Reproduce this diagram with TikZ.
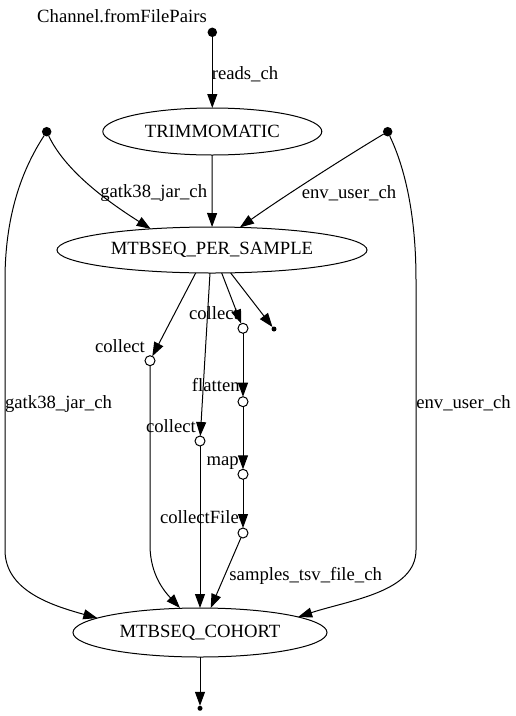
\documentclass[tikz,border=0pt]{standalone}
\usepackage{fontspec}
\setmainfont{Liberation Serif}
\usetikzlibrary{shapes.geometric,arrows.meta}
\begin{document}
\begin{tikzpicture}[x=1pt,y=-1pt,
  every node/.style={font=\fontsize{18.67}{22}\selectfont},
  lbl/.style={inner sep=0pt, text height=12.5pt, text depth=4pt, yshift=-2.5pt},
  proc/.style={ellipse, draw, line width=1pt, inner sep=0pt, outer sep=0pt, minimum height=47pt},
  bigdot/.style={circle, fill=black, inner sep=0pt, minimum size=9.5pt, outer sep=0pt},
  smalldot/.style={circle, fill=black, inner sep=0pt, minimum size=5pt, outer sep=0pt},
  opcirc/.style={circle, draw, fill=white, line width=1pt, inner sep=0pt, minimum size=10pt, outer sep=0pt},
  edge/.style={line width=1pt},
  arr/.style={edge, -{Triangle[length=14pt,width=10pt]}}
]
\useasboundingbox (0,0) rectangle (516,716);

% nodes
\node[lbl] (srclbl) at (122,16) {Channel.fromFilePairs};
\node[bigdot] (d0) at (212.3,32.3) {};
\node[proc, minimum width=219pt] (trim) at (212.3,131.5) {TRIMMOMATIC};
\node[bigdot] (ldot) at (46.7,131.7) {};
\node[bigdot] (rdot) at (387.7,131.7) {};
\node[proc, minimum width=310pt, minimum height=46pt] (ps) at (212,250) {MTBSEQ\_PER\_SAMPLE};
\node[opcirc] (c3) at (243,328.3) {};
\node[smalldot] (dot4) at (274,329) {};
\node[opcirc] (c1) at (150,360.7) {};
\node[opcirc] (c4) at (243,401.7) {};
\node[opcirc] (c2) at (200,441) {};
\node[opcirc] (c5) at (243,474.3) {};
\node[opcirc] (c6) at (243,533) {};
\node[proc, minimum width=254pt, minimum height=49pt] (co) at (200,632.5) {MTBSEQ\_COHORT};
\node[smalldot] (dend) at (200,708.3) {};

% edge labels
\node[lbl] (l1) at (245,72.7) {reads\_ch};
\node[lbl] (l2) at (153.7,191) {gatk38\_jar\_ch};
\node[lbl] (l3) at (349,191.7) {env\_user\_ch};
\node[lbl] (l4) at (58.5,402) {gatk38\_jar\_ch};
\node[lbl] (l5) at (463.5,402) {env\_user\_ch};
\node[lbl] (l6) at (120,346) {collect};
\node[lbl] (l7) at (214,313) {collect};
\node[lbl] (l8) at (215.8,385) {flatten};
\node[lbl] (l9) at (171,425.7) {collect};
\node[lbl] (l10) at (222.7,459) {map};
\node[lbl] (l11) at (199.4,516.7) {collectFile};
\node[lbl] (l12) at (305.7,573.3) {samples\_tsv\_file\_ch};

% edges
\draw[arr] (d0) -- (trim);
\draw[arr] (trim) -- (ps);
\draw[arr] (ldot) .. controls (65,170) and (105,200) .. (ps.161.4);
\draw[arr] (rdot) .. controls (360,148) and (290,192) .. (ps.39.8);
\draw[arr] (ldot) .. controls (25,165) and (5,210) .. (5,280) -- (5,550)
  .. controls (5,590) and (50,605) .. (co.172);
\draw[arr] (rdot) .. controls (405,168) and (416,215) .. (416,280) -- (416,550)
  .. controls (416,592) and (350,600) .. (co.9.3);
\draw[arr] ([xshift=-16.3pt]ps.south) -- (c1);
\draw[arr] ([xshift=-2pt]ps.south) -- (c2);
\draw[arr] ([xshift=9.7pt]ps.south) -- (c3);
\draw[arr] ([xshift=18.7pt]ps.south) -- (dot4);
\draw[arr] (c3) -- (c4);
\draw[arr] (c4) -- (c5);
\draw[arr] (c5) -- (c6);
\draw[arr] (c6) -- ([xshift=10.7pt]co.north);
\draw[arr] (c2) -- (co);
\draw[arr] (c1) -- (150,545) .. controls (150,575) and (165,592) .. ([xshift=-20pt]co.north);
\draw[arr] (co) -- (dend);
\end{tikzpicture}
\end{document}
